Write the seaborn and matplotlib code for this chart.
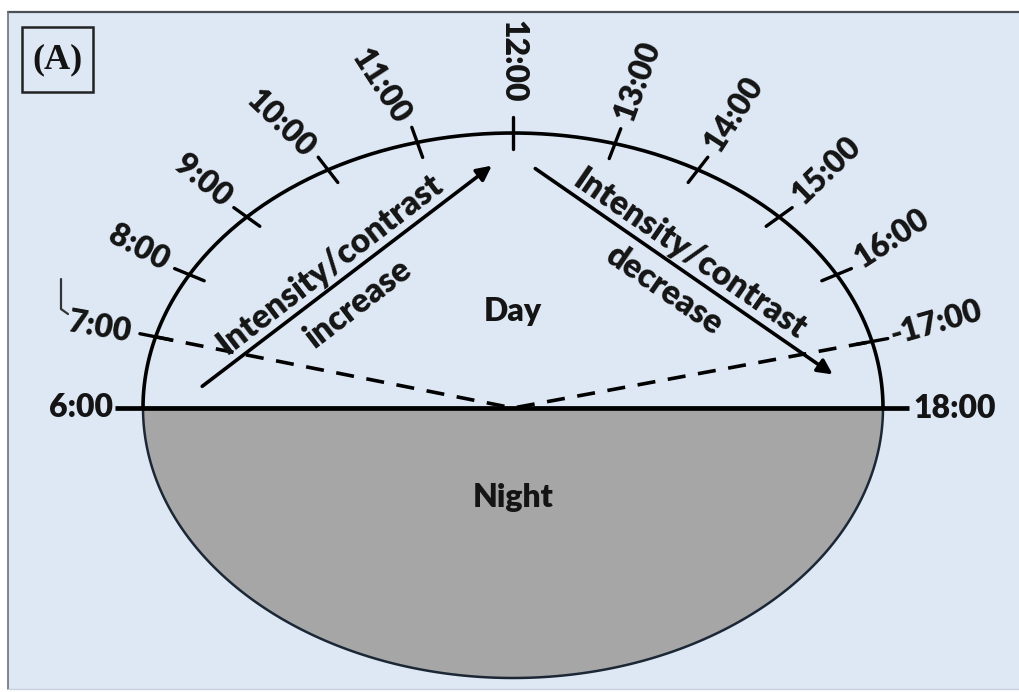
import numpy as np
import pandas as pd
import seaborn as sns
import matplotlib.pyplot as plt
from matplotlib.patches import Rectangle, Polygon

# hour marks around the sky arc
hour_labels = ["6:00", "7:00", "8:00", "9:00", "10:00", "11:00", "12:00",
               "13:00", "14:00", "15:00", "16:00", "-17:00", "18:00"]
hour_values = [6, 7, 8, 9, 10, 11, 12, 13, 14, 15, 16, 17, 18]
tick_angles = [180, 165, 151, 136, 120, 105, 90, 74, 60, 44, 29, 14, 0]
label_rotations = [0, -10, -28, -39, -44, -57, -90, 70, 57, 44, 33, 16, 0]

arrow_texts = ["Intensity/contrast", "increase", "Intensity/contrast", "decrease"]
region_labels = ["Day", "Night"]
panel_tag = "(A)"

# layout in pixel units
CX, CY = 513, 408
A, B_UP, B_DOWN = 370, 275, 270
PANEL = "#dde8f4"
NIGHT = "#a6a6a6"
INK = "#141414"
WEIGHT = "heavy"


def arc_point(angle_deg, b):
    t = np.deg2rad(angle_deg)
    return CX + A * np.cos(t), CY - b * np.sin(t)


def main():
    sns.set_theme(style="white")
    plt.rcParams["font.family"] = ["Lato", "DejaVu Sans"]

    fig = plt.figure(figsize=(10.19, 6.92), dpi=100)
    fig.patch.set_facecolor("white")
    ax = fig.add_axes([0, 0, 1, 1])
    ax.set_xlim(0, 1019)
    ax.set_ylim(692, 0)
    ax.axis("off")

    # panel background and borders
    ax.add_patch(Rectangle((8, 12), 1011, 677, facecolor=PANEL, edgecolor="none", zorder=0))
    ax.plot([8, 1019], [12, 12], color="#4a4f55", lw=1.6, zorder=1)
    ax.plot([8, 8], [12, 689], color="#6d7278", lw=1.2, zorder=1)
    ax.plot([8, 1019], [689, 689], color="#c9d2dc", lw=1.0, zorder=1)

    # night half (filled lower half of the ellipse)
    t = np.linspace(180, 360, 200)
    low = np.column_stack(arc_point(t, B_DOWN))
    ax.add_patch(Polygon(low, closed=True, facecolor=NIGHT, edgecolor="#1c2736",
                         lw=1.8, zorder=2))

    # day arc
    t = np.linspace(0, 180, 300)
    ux, uy = arc_point(t, B_UP)
    arc = pd.DataFrame({"x": ux, "y": uy})
    sns.lineplot(data=arc, x="x", y="y", sort=False, estimator=None,
                 color="black", lw=2.6, ax=ax, zorder=4)

    # horizon line
    ax.plot([CX - A - 28, CX + A + 26], [CY, CY], color="black", lw=3.4,
            solid_capstyle="butt", zorder=5)

    # hour ticks and labels
    for lab, hv, ang, rot in zip(hour_labels, hour_values, tick_angles, label_rotations):
        px, py = arc_point(ang, B_UP)
        vx, vy = px - CX, CY - py
        n = np.hypot(vx, vy)
        ux_, uy_ = vx / n, vy / n
        if hv not in (6, 18):
            h = 16
            ax.plot([px - h * ux_, px + h * ux_], [py + h * uy_, py - h * uy_],
                    color="black", lw=2.4, zorder=5)
        if hv <= 12:
            d_ang = np.deg2rad(rot + 180)
            ha = "right"
        else:
            d_ang = np.deg2rad(rot)
            ha = "left"
        if hv in (6, 18, 12):
            d = 30
        elif hv == 17:
            d = 19
        else:
            d = 25
        tx = px + d * np.cos(d_ang)
        ty = py - d * np.sin(d_ang)
        ax.text(tx, ty, lab, rotation=rot, rotation_mode="anchor", ha=ha, va="center",
                fontsize=23, fontweight=WEIGHT, color=INK, zorder=6)

    # dashed path 7:00 -> noon below -> 17:00
    p7 = arc_point(tick_angles[1], B_UP)
    p17 = arc_point(tick_angles[11], B_UP)
    dash = pd.DataFrame({"x": [p7[0], CX, p17[0]], "y": [p7[1], CY, p17[1]]})
    sns.lineplot(data=dash, x="x", y="y", sort=False, estimator=None, color="black",
                 lw=2.6, linestyle=(0, (5, 3.5)), ax=ax, zorder=4)

    # small mark near 7:00
    ax.plot([61, 61, 68], [279, 309, 314], color="#333333", lw=1.6, zorder=5)

    # arrows
    ax.annotate("", xy=(494, 164), xytext=(200, 388),
                arrowprops=dict(arrowstyle="-|>", lw=2.6, color="black", mutation_scale=22),
                zorder=5)
    ax.annotate("", xy=(835, 376), xytext=(533, 167),
                arrowprops=dict(arrowstyle="-|>", lw=2.6, color="black", mutation_scale=22),
                zorder=5)

    # arrow captions
    cap = dict(ha="center", va="center", rotation_mode="anchor", fontsize=24,
               fontweight=WEIGHT, color=INK, zorder=6)
    ax.text(330, 264, arrow_texts[0], rotation=37.4, **cap)
    ax.text(358, 303, arrow_texts[1], rotation=37.4, **cap)
    ax.text(690, 255, arrow_texts[2], rotation=-34.5, **cap)
    ax.text(664, 290, arrow_texts[3], rotation=-34.5, **cap)

    # region labels
    ax.text(CX, 312, region_labels[0], ha="center", va="center", fontsize=23,
            fontweight=WEIGHT, color=INK, zorder=6)
    ax.text(CX, 497, region_labels[1], ha="center", va="center", fontsize=23,
            fontweight=WEIGHT, color=INK, zorder=6)

    # panel tag
    ax.add_patch(Rectangle((22, 27), 71, 65, facecolor="none", edgecolor="#222222",
                           lw=1.8, zorder=6))
    ax.text(57.5, 60, panel_tag, ha="center", va="center", fontsize=26, fontweight="bold",
            family=["Liberation Serif", "DejaVu Serif"], color=INK, zorder=7)

    fig.savefig("out.png", dpi=100, facecolor="white")
    plt.close(fig)


if __name__ == "__main__":
    main()
